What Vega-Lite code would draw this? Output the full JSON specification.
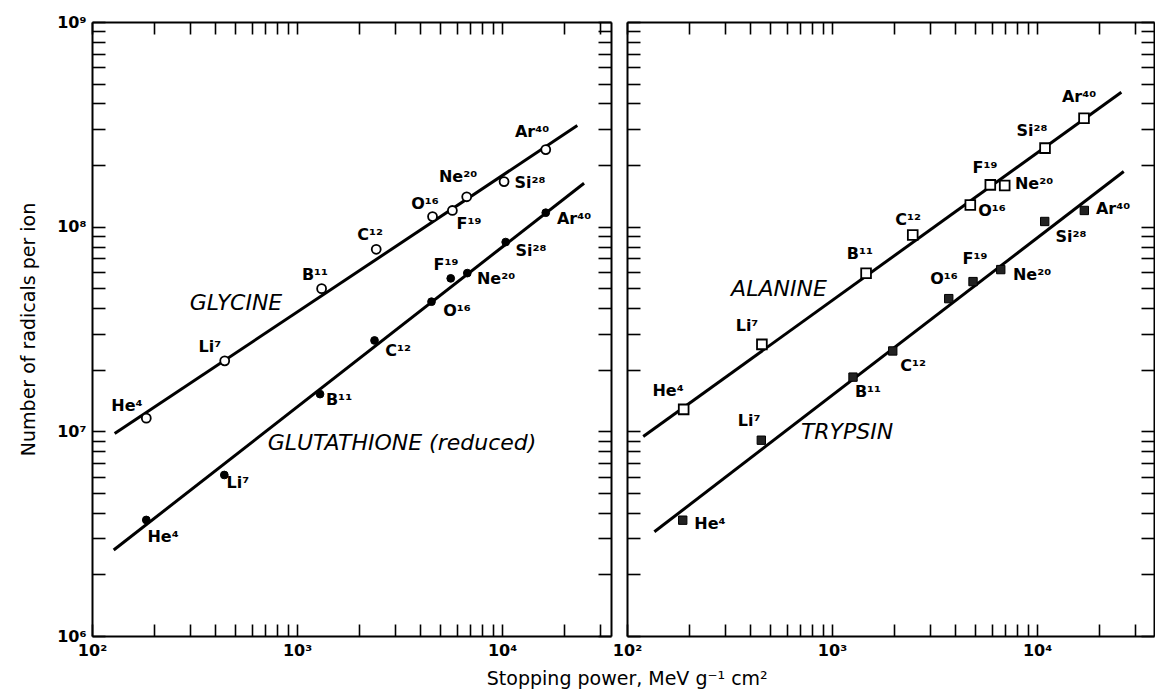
{
  "$schema": "https://vega.github.io/schema/vega-lite/v6.json",
  "background": "white",
  "padding": {"left": 19, "top": 14, "right": 2, "bottom": 10},
  "config": {
    "view": {"stroke": null},
    "font": "DejaVu Sans",
    "axis": {
      "domainColor": "black", "domainWidth": 2, "tickColor": "black", "tickWidth": 1.6,
      "grid": false, "labelColor": "black", "labelFont": "DejaVu Sans", "labelFontSize": 16, "labelFontWeight": "bold",
      "labelOverlap": false, "labelFlush": false, "titleColor": "black", "titleFont": "DejaVu Sans",
      "titleFontWeight": "normal", "titleFontSize": 19
    },
    "title": {"font": "DejaVu Sans", "fontSize": 19, "fontWeight": "normal", "color": "black"}
  },
  "title": {"text": "Stopping power, MeV g⁻¹ cm²", "orient": "bottom", "anchor": "middle", "offset": 12, "dx": 40},
  "datasets": {
    "pts": [
      {"panel": "L", "series": "glycine", "ion": "He4", "x": 184, "y": 11600000},
      {"panel": "L", "series": "glycine", "ion": "Li7", "x": 444, "y": 22100000},
      {"panel": "L", "series": "glycine", "ion": "B11", "x": 1318, "y": 49800000},
      {"panel": "L", "series": "glycine", "ion": "C12", "x": 2434, "y": 77500000},
      {"panel": "L", "series": "glycine", "ion": "O16", "x": 4581, "y": 112000000},
      {"panel": "L", "series": "glycine", "ion": "F19", "x": 5726, "y": 120000000},
      {"panel": "L", "series": "glycine", "ion": "Ne20", "x": 6724, "y": 140000000},
      {"panel": "L", "series": "glycine", "ion": "Si28", "x": 10230, "y": 166000000},
      {"panel": "L", "series": "glycine", "ion": "Ar40", "x": 16340, "y": 238000000},
      {"panel": "L", "series": "glutathione", "ion": "He4", "x": 184, "y": 3690000},
      {"panel": "L", "series": "glutathione", "ion": "Li7", "x": 442, "y": 6120000},
      {"panel": "L", "series": "glutathione", "ion": "B11", "x": 1295, "y": 15200000},
      {"panel": "L", "series": "glutathione", "ion": "C12", "x": 2388, "y": 27800000},
      {"panel": "L", "series": "glutathione", "ion": "O16", "x": 4529, "y": 43000000},
      {"panel": "L", "series": "glutathione", "ion": "F19", "x": 5620, "y": 55900000},
      {"panel": "L", "series": "glutathione", "ion": "Ne20", "x": 6770, "y": 59300000},
      {"panel": "L", "series": "glutathione", "ion": "Si28", "x": 10420, "y": 84100000},
      {"panel": "L", "series": "glutathione", "ion": "Ar40", "x": 16340, "y": 117000000},
      {"panel": "R", "series": "alanine", "ion": "He4", "x": 189, "y": 12800000},
      {"panel": "R", "series": "alanine", "ion": "Li7", "x": 455, "y": 26600000},
      {"panel": "R", "series": "alanine", "ion": "B11", "x": 1466, "y": 59200000},
      {"panel": "R", "series": "alanine", "ion": "C12", "x": 2476, "y": 91000000},
      {"panel": "R", "series": "alanine", "ion": "O16", "x": 4727, "y": 127500000},
      {"panel": "R", "series": "alanine", "ion": "F19", "x": 5918, "y": 160000000},
      {"panel": "R", "series": "alanine", "ion": "Ne20", "x": 6955, "y": 159000000},
      {"panel": "R", "series": "alanine", "ion": "Si28", "x": 10940, "y": 242000000},
      {"panel": "R", "series": "alanine", "ion": "Ar40", "x": 16950, "y": 339000000},
      {"panel": "R", "series": "trypsin", "ion": "He4", "x": 187, "y": 3680000},
      {"panel": "R", "series": "trypsin", "ion": "Li7", "x": 452, "y": 9050000},
      {"panel": "R", "series": "trypsin", "ion": "B11", "x": 1266, "y": 18400000},
      {"panel": "R", "series": "trypsin", "ion": "C12", "x": 1978, "y": 24700000},
      {"panel": "R", "series": "trypsin", "ion": "O16", "x": 3710, "y": 44500000},
      {"panel": "R", "series": "trypsin", "ion": "F19", "x": 4873, "y": 53900000},
      {"panel": "R", "series": "trypsin", "ion": "Ne20", "x": 6653, "y": 61700000},
      {"panel": "R", "series": "trypsin", "ion": "Si28", "x": 10900, "y": 106000000},
      {"panel": "R", "series": "trypsin", "ion": "Ar40", "x": 17010, "y": 120000000}
    ],
    "fits": [
      {"panel": "L", "series": "glycine", "x": 129, "y": 9750000},
      {"panel": "L", "series": "glycine", "x": 23290, "y": 312000000},
      {"panel": "L", "series": "glutathione", "x": 127.6, "y": 2630000},
      {"panel": "L", "series": "glutathione", "x": 25120, "y": 163000000},
      {"panel": "R", "series": "alanine", "x": 120, "y": 9430000},
      {"panel": "R", "series": "alanine", "x": 25780, "y": 454000000},
      {"panel": "R", "series": "trypsin", "x": 136, "y": 3230000},
      {"panel": "R", "series": "trypsin", "x": 26480, "y": 186000000}
    ],
    "ionLabels": [
      {"panel": "L", "text": "He⁴", "x": 148, "y": 13270000},
      {"panel": "L", "text": "Li⁷", "x": 376, "y": 25740000},
      {"panel": "L", "text": "B¹¹", "x": 1224, "y": 57830000},
      {"panel": "L", "text": "C¹²", "x": 2271, "y": 90700000},
      {"panel": "L", "text": "O¹⁶", "x": 4211, "y": 128500000},
      {"panel": "L", "text": "F¹⁹", "x": 6902, "y": 102600000},
      {"panel": "L", "text": "Ne²⁰", "x": 6101, "y": 174000000},
      {"panel": "L", "text": "Si²⁸", "x": 13690, "y": 162700000},
      {"panel": "L", "text": "Ar⁴⁰", "x": 14010, "y": 288700000},
      {"panel": "L", "text": "He⁴", "x": 222, "y": 3040000},
      {"panel": "L", "text": "Li⁷", "x": 515, "y": 5580000},
      {"panel": "L", "text": "B¹¹", "x": 1603, "y": 14190000},
      {"panel": "L", "text": "C¹²", "x": 3110, "y": 24610000},
      {"panel": "L", "text": "O¹⁶", "x": 6033, "y": 38580000},
      {"panel": "L", "text": "F¹⁹", "x": 5331, "y": 64700000},
      {"panel": "L", "text": "Ne²⁰", "x": 9348, "y": 55300000},
      {"panel": "L", "text": "Si²⁸", "x": 13850, "y": 75750000},
      {"panel": "L", "text": "Ar⁴⁰", "x": 22450, "y": 108500000},
      {"panel": "R", "text": "He⁴", "x": 158.5, "y": 15700000},
      {"panel": "R", "text": "Li⁷", "x": 385, "y": 32610000},
      {"panel": "R", "text": "B¹¹", "x": 1369, "y": 73200000},
      {"panel": "R", "text": "C¹²", "x": 2349, "y": 107300000},
      {"panel": "R", "text": "O¹⁶", "x": 6033, "y": 118700000},
      {"panel": "R", "text": "F¹⁹", "x": 5576, "y": 192600000},
      {"panel": "R", "text": "Ne²⁰", "x": 9669, "y": 160900000},
      {"panel": "R", "text": "Si²⁸", "x": 9454, "y": 292000000},
      {"panel": "R", "text": "Ar⁴⁰", "x": 16030, "y": 428000000},
      {"panel": "R", "text": "He⁴", "x": 254, "y": 3520000},
      {"panel": "R", "text": "Li⁷", "x": 394, "y": 11200000},
      {"panel": "R", "text": "B¹¹", "x": 1498, "y": 15520000},
      {"panel": "R", "text": "C¹²", "x": 2484, "y": 20790000},
      {"panel": "R", "text": "O¹⁶", "x": 3518, "y": 55300000},
      {"panel": "R", "text": "F¹⁹", "x": 4984, "y": 69200000},
      {"panel": "R", "text": "Ne²⁰", "x": 9454, "y": 57800000},
      {"panel": "R", "text": "Si²⁸", "x": 14650, "y": 88700000},
      {"panel": "R", "text": "Ar⁴⁰", "x": 23480, "y": 121500000}
    ],
    "names": [
      {"panel": "L", "text": "GLYCINE", "x": 504, "y": 42220000},
      {"panel": "L", "text": "GLUTATHIONE (reduced)", "x": 3252, "y": 8747000},
      {"panel": "R", "text": "ALANINE", "x": 551, "y": 49400000},
      {"panel": "R", "text": "TRYPSIN", "x": 1184, "y": 9900000}
    ]
  },
  "spacing": 0,
  "hconcat": [
    {
      "width": 519,
      "height": 614,
      "layer": [
        {
          "data": {"name": "fits"},
          "transform": [{"filter": "datum.panel == 'L'"}],
          "mark": {"type": "line", "color": "black", "strokeWidth": 3},
          "encoding": {
            "x": {"field": "x", "type": "quantitative", "scale": {"type": "log", "domain": [100, 34000], "nice": false},
              "axis": {"orient": "bottom", "title": null, "values": [100,200,300,400,500,600,700,800,900,1000,2000,3000,4000,5000,6000,7000,8000,9000,10000,20000,30000],
                "labelExpr": "datum.value == 100 ? '10²' : datum.value == 1000 ? '10³' : datum.value == 10000 ? '10⁴' : ''",
                "tickSize": -12, "labelPadding": 18}},
            "y": {"field": "y", "type": "quantitative", "scale": {"type": "log", "domain": [1000000, 1000000000], "nice": false},
              "axis": {"orient": "left", "title": "Number of radicals per ion", "titlePadding": 18,
                "values": [1000000,2000000,3000000,4000000,5000000,6000000,7000000,8000000,9000000,10000000,20000000,30000000,40000000,50000000,60000000,70000000,80000000,90000000,100000000,200000000,300000000,400000000,500000000,600000000,700000000,800000000,900000000,1000000000],
                "labelExpr": "datum.value == 1000000 ? '10⁶' : datum.value == 10000000 ? '10⁷' : datum.value == 100000000 ? '10⁸' : datum.value == 1000000000 ? '10⁹' : ''",
                "tickSize": -13, "labelPadding": 19}},
            "detail": {"field": "series"}
          }
        },
        {
          "data": {"name": "pts"},
          "transform": [{"filter": "datum.series == 'glycine'"}],
          "mark": {"type": "point", "shape": "circle", "filled": true, "fill": "white", "stroke": "black", "strokeWidth": 1.8, "size": 80, "opacity": 1},
          "encoding": {
            "x": {"field": "x", "type": "quantitative", "scale": {"type": "log", "domain": [100, 34000], "nice": false},
              "axis": {"orient": "top", "title": null, "labels": false, "values": [100,200,300,400,500,600,700,800,900,1000,2000,3000,4000,5000,6000,7000,8000,9000,10000,20000,30000], "tickSize": -12}},
            "y": {"field": "y", "type": "quantitative", "scale": {"type": "log", "domain": [1000000, 1000000000], "nice": false},
              "axis": {"orient": "right", "title": null, "labels": false,
                "values": [1000000,2000000,3000000,4000000,5000000,6000000,7000000,8000000,9000000,10000000,20000000,30000000,40000000,50000000,60000000,70000000,80000000,90000000,100000000,200000000,300000000,400000000,500000000,600000000,700000000,800000000,900000000,1000000000],
                "tickSize": -13}}
          }
        },
        {
          "data": {"name": "pts"},
          "transform": [{"filter": "datum.series == 'glutathione'"}],
          "mark": {"type": "point", "shape": "circle", "filled": true, "fill": "black", "stroke": "black", "strokeWidth": 1, "size": 60, "opacity": 1},
          "encoding": {
            "x": {"field": "x", "type": "quantitative", "scale": {"type": "log", "domain": [100, 34000], "nice": false}, "axis": null},
            "y": {"field": "y", "type": "quantitative", "scale": {"type": "log", "domain": [1000000, 1000000000], "nice": false}, "axis": null}
          }
        },
        {
          "data": {"name": "ionLabels"},
          "transform": [{"filter": "datum.panel == 'L'"}],
          "mark": {"type": "text", "font": "DejaVu Sans", "fontSize": 16, "fontWeight": "bold", "color": "black", "align": "center", "baseline": "middle"},
          "encoding": {
            "x": {"field": "x", "type": "quantitative", "scale": {"type": "log", "domain": [100, 34000], "nice": false}, "axis": null},
            "y": {"field": "y", "type": "quantitative", "scale": {"type": "log", "domain": [1000000, 1000000000], "nice": false}, "axis": null},
            "text": {"field": "text"}
          }
        },
        {
          "data": {"name": "names"},
          "transform": [{"filter": "datum.panel == 'L'"}],
          "mark": {"type": "text", "font": "DejaVu Sans", "fontSize": 22, "fontStyle": "italic", "color": "black", "align": "center", "baseline": "middle"},
          "encoding": {
            "x": {"field": "x", "type": "quantitative", "scale": {"type": "log", "domain": [100, 34000], "nice": false}, "axis": null},
            "y": {"field": "y", "type": "quantitative", "scale": {"type": "log", "domain": [1000000, 1000000000], "nice": false}, "axis": null},
            "text": {"field": "text"}
          }
        }
      ],
      "resolve": {"axis": {"x": "independent", "y": "independent"}}
    },
    {
      "width": 527,
      "height": 614,
      "layer": [
        {
          "data": {"name": "fits"},
          "transform": [{"filter": "datum.panel == 'R'"}],
          "mark": {"type": "line", "color": "black", "strokeWidth": 3},
          "encoding": {
            "x": {"field": "x", "type": "quantitative", "scale": {"type": "log", "domain": [100, 37200], "nice": false},
              "axis": {"orient": "bottom", "title": null, "values": [100,200,300,400,500,600,700,800,900,1000,2000,3000,4000,5000,6000,7000,8000,9000,10000,20000,30000],
                "labelExpr": "datum.value == 100 ? '10²' : datum.value == 1000 ? '10³' : datum.value == 10000 ? '10⁴' : ''",
                "tickSize": -12, "labelPadding": 18}},
            "y": {"field": "y", "type": "quantitative", "scale": {"type": "log", "domain": [1000000, 1000000000], "nice": false},
              "axis": {"orient": "left", "title": null, "labels": false,
                "values": [1000000,2000000,3000000,4000000,5000000,6000000,7000000,8000000,9000000,10000000,20000000,30000000,40000000,50000000,60000000,70000000,80000000,90000000,100000000,200000000,300000000,400000000,500000000,600000000,700000000,800000000,900000000,1000000000],
                "tickSize": -13}},
            "detail": {"field": "series"}
          }
        },
        {
          "data": {"name": "pts"},
          "transform": [{"filter": "datum.series == 'alanine'"}],
          "mark": {"type": "point", "shape": "square", "filled": true, "fill": "white", "stroke": "black", "strokeWidth": 1.8, "size": 95, "opacity": 1},
          "encoding": {
            "x": {"field": "x", "type": "quantitative", "scale": {"type": "log", "domain": [100, 37200], "nice": false},
              "axis": {"orient": "top", "title": null, "labels": false, "values": [100,200,300,400,500,600,700,800,900,1000,2000,3000,4000,5000,6000,7000,8000,9000,10000,20000,30000], "tickSize": -12}},
            "y": {"field": "y", "type": "quantitative", "scale": {"type": "log", "domain": [1000000, 1000000000], "nice": false},
              "axis": {"orient": "right", "title": null, "labels": false,
                "values": [1000000,2000000,3000000,4000000,5000000,6000000,7000000,8000000,9000000,10000000,20000000,30000000,40000000,50000000,60000000,70000000,80000000,90000000,100000000,200000000,300000000,400000000,500000000,600000000,700000000,800000000,900000000,1000000000],
                "tickSize": -13}}
          }
        },
        {
          "data": {"name": "pts"},
          "transform": [{"filter": "datum.series == 'trypsin'"}],
          "mark": {"type": "point", "shape": "square", "filled": true, "fill": "#222222", "stroke": "black", "strokeWidth": 1, "size": 70, "opacity": 1},
          "encoding": {
            "x": {"field": "x", "type": "quantitative", "scale": {"type": "log", "domain": [100, 37200], "nice": false}, "axis": null},
            "y": {"field": "y", "type": "quantitative", "scale": {"type": "log", "domain": [1000000, 1000000000], "nice": false}, "axis": null}
          }
        },
        {
          "data": {"name": "ionLabels"},
          "transform": [{"filter": "datum.panel == 'R'"}],
          "mark": {"type": "text", "font": "DejaVu Sans", "fontSize": 16, "fontWeight": "bold", "color": "black", "align": "center", "baseline": "middle"},
          "encoding": {
            "x": {"field": "x", "type": "quantitative", "scale": {"type": "log", "domain": [100, 37200], "nice": false}, "axis": null},
            "y": {"field": "y", "type": "quantitative", "scale": {"type": "log", "domain": [1000000, 1000000000], "nice": false}, "axis": null},
            "text": {"field": "text"}
          }
        },
        {
          "data": {"name": "names"},
          "transform": [{"filter": "datum.panel == 'R'"}],
          "mark": {"type": "text", "font": "DejaVu Sans", "fontSize": 22, "fontStyle": "italic", "color": "black", "align": "center", "baseline": "middle"},
          "encoding": {
            "x": {"field": "x", "type": "quantitative", "scale": {"type": "log", "domain": [100, 37200], "nice": false}, "axis": null},
            "y": {"field": "y", "type": "quantitative", "scale": {"type": "log", "domain": [1000000, 1000000000], "nice": false}, "axis": null},
            "text": {"field": "text"}
          }
        }
      ],
      "resolve": {"axis": {"x": "independent", "y": "independent"}}
    }
  ]
}
